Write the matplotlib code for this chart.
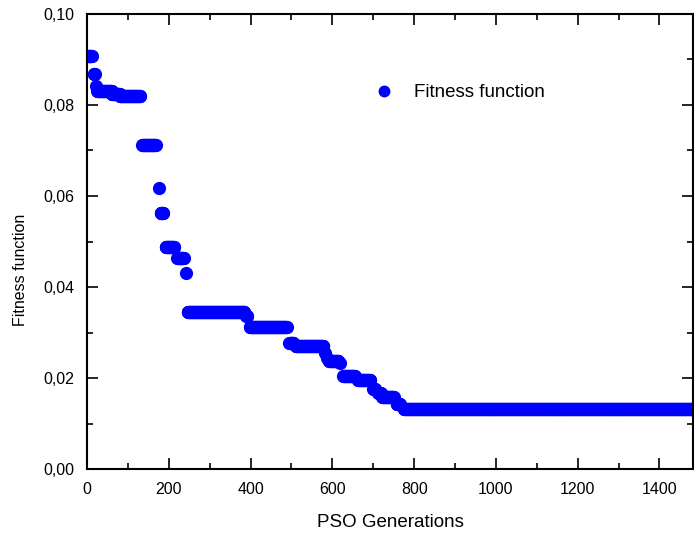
import numpy as np
import matplotlib
matplotlib.use('Agg')
import matplotlib.pyplot as plt
from matplotlib.ticker import MultipleLocator, FuncFormatter

# best fitness plateaus: first gen, last gen, value
gen_start = [0, 17, 22, 25, 60, 80, 135, 175, 180, 192, 221, 241, 246, 390, 398,
             495, 510, 582, 588, 592, 619, 627, 662, 700, 712, 722, 757, 775]
gen_end = [12, 19, 22, 60, 80, 130, 168, 175, 186, 213, 236, 241, 385, 392, 488,
           505, 578, 582, 588, 615, 619, 655, 692, 705, 718, 750, 765, 1480]
fitness = [0.0908, 0.0868, 0.0842, 0.0831, 0.0825, 0.0820, 0.0711, 0.0617, 0.0562,
           0.0487, 0.0464, 0.0430, 0.0346, 0.0337, 0.0313, 0.0276, 0.0270, 0.0255,
           0.0245, 0.0238, 0.0233, 0.0205, 0.0196, 0.0176, 0.0168, 0.0158, 0.0142,
           0.0132]

gens = []
vals = []
for a, b, v in zip(gen_start, gen_end, fitness):
    g = np.arange(a, b + 1)
    gens.extend(g)
    vals.extend([v] * len(g))

plt.rcParams['font.family'] = ['Liberation Sans', 'DejaVu Sans']

fig = plt.figure(figsize=(6.94, 5.35), dpi=100)
ax = fig.add_axes([87 / 694, 66 / 535, 606 / 694, 455 / 535])

ax.plot(gens, vals, 'o', color='#0000ff', markersize=9.5, markeredgewidth=0,
        label='Fitness function')

ax.set_xlim(0, 1482)
ax.set_ylim(0, 0.10)
ax.xaxis.set_major_locator(MultipleLocator(200))
ax.xaxis.set_minor_locator(MultipleLocator(100))
ax.yaxis.set_major_locator(MultipleLocator(0.02))
ax.yaxis.set_minor_locator(MultipleLocator(0.01))
ax.yaxis.set_major_formatter(FuncFormatter(lambda v, p: f'{v:.2f}'.replace('.', ',')))

ax.tick_params(which='both', direction='in', top=True, right=True, width=1.2,
               labelsize=11.5, colors='black')
ax.tick_params(which='major', length=8, pad=9)
ax.tick_params(which='minor', length=4)
for s in ax.spines.values():
    s.set_linewidth(1.5)

ax.set_xlabel('PSO Generations', fontsize=13.5)
ax.xaxis.set_label_coords(0.5, -0.098)
ax.set_ylabel('Fitness function', fontsize=11.5)
ax.yaxis.set_label_coords(-0.098, 0.437)

ax.legend(loc='center left', bbox_to_anchor=(0.431, 0.827), frameon=False,
          fontsize=13.5, handletextpad=0.6, markerscale=0.9)

plt.savefig('out.png', dpi=100, facecolor='white')
